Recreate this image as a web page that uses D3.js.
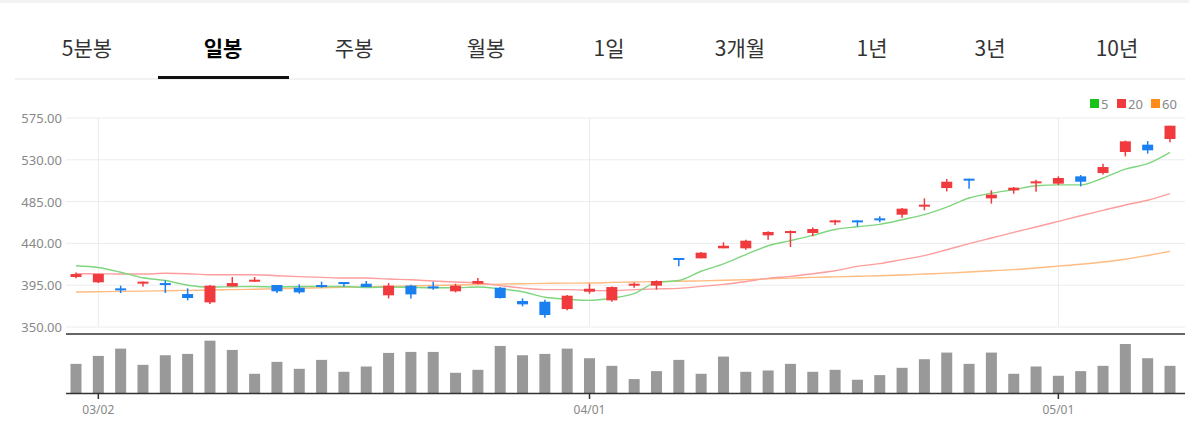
<!DOCTYPE html><html><head><meta charset="utf-8">
<script src="https://cdn.jsdelivr.net/npm/d3@7"></script>
<style>body{margin:0;background:#fff;font-family:"Noto Sans CJK KR","Noto Sans",sans-serif}</style></head><body>
<svg id="c" width="1189" height="424"></svg>
<script>
const tabs=["5분봉","일봉","주봉","월봉","1일","3개월","1년","3년","10년"];
const tabX=[87,223,354,486,609,740,872,990,1117];
const open=[403.8,398.1,391.6,397.3,397.3,385.5,376.5,393.7,399,395.2,392.3,395.2,398.4,396.6,384.1,394.5,393.7,388.4,396.6,392.3,378,377.2,369.3,388,
378.7,394.5,394.5,424.3,423.9,434.7,434.7,448.7,451.2,451.2,463.4,464.8,467,470.9,480.6,499.6,509.7,488.5,497.1,505,504.3,512.2,515.8,538.4,546.3,552.4];
const close=[407,407,391,398.8,395.5,381.2,394.5,397.3,400.9,388.4,387.3,393.7,397.3,393,394.5,385.1,391.6,394.5,399.5,381.2,374.4,362.9,383.7,391.2,
393,396.6,399.5,423.2,430,437.5,442.9,452.3,453.3,455.5,464.8,463.7,464.8,477.4,481.7,506.4,508.6,492.5,500,506.8,510.4,506.4,522.2,549.9,540.2,566.7];
const high=[408.8,407,394.5,399,400.2,391.6,395.2,403.8,403.8,395.2,395.9,398.8,398.4,399.5,397.3,395.5,398.8,396.6,402.7,393,380.8,379.4,384.4,396.6,
393.7,398,400.2,424.3,430.8,441.1,444,453,454,457,465.5,464.8,469.1,478.1,488.5,509.3,509.7,497.1,500.7,508.6,512.2,513.6,525.8,550.6,550.2,566.7];
const low=[402.4,397.4,386.6,393.7,386.6,378.7,374.7,393.7,398.4,386.6,385.9,392.3,393.7,393,380.8,380.8,390.2,387.3,396,380.8,372.2,360,367.9,385.9,
377.2,392.3,390.2,415.3,423.9,434.7,433.2,444,436.1,447.6,459.8,458.3,462.7,467.7,475.6,496,498.9,482.8,493.5,495.7,502.9,501.4,514.3,533.7,536.6,548.8];
const ma5=[416,414,409,403,400,395,393,393.3,393.6,393,393.6,393.6,393.6,392.6,393,392.6,392.3,392.3,393,391,388,382,380,378.7,
381.2,386,398,400,410,418,428,437.5,443,448.7,455,458,460.5,465.5,471,479,488.9,494,497.8,502,503,503,510.4,520,525.8,538];
const ma20=[407.4,407.4,407,407,407.8,407.4,406.3,406.3,406.3,405.2,404.2,403.4,402.7,402.7,401.6,400.9,399.5,398.4,397.3,394.5,391.9,390.2,390.2,389.4,
389,390.2,391,391.6,393.7,395.9,399,402.4,404.5,407.4,410.6,415.3,418.2,422.5,426.8,433.2,439.7,445.8,451.9,457.6,463.7,469.8,475.6,481.4,486.4,493.5];
const ma60=[387.7,388,388.3,388.6,389,389.4,389.8,390.2,390.7,391.2,391.7,392.2,392.7,393.2,393.7,394.2,394.7,395.2,395.7,396.2,396.6,397,397.2,397.3,
398,398.5,398.8,399.2,399.7,400.3,401,401.8,402.6,403.4,404,404.6,405.2,406,407,408,409.2,410.5,411.8,413.5,415.5,417.5,420,423,427,431.4];
const vol=[88,112,134,85,114,118,158,130,58,94,73,100,64,80,121,124,124,61,70,142,114,118,134,105,
82,42,66,100,58,110,64,68,88,64,70,40,54,76,102,122,88,122,58,80,52,66,82,148,105,82];
const priceTicks=[350,395,440,485,530,575];
const dateTickIdx=[1,23,44];
const dateTickLabels=["03/02","04/01","05/01"];
const maNames=["5","20","60"];

const svg=d3.select("#c");
svg.append("rect").attr("x",0).attr("y",0).attr("width",1189).attr("height",3).attr("fill","#f2f2f2");
svg.selectAll(".tab").data(tabs).join("text").attr("x",(d,i)=>tabX[i]).attr("y",56).attr("text-anchor","middle")
 .attr("font-size",21).attr("font-weight",(d,i)=>i==1?700:400).attr("fill",(d,i)=>i==1?"#000":"#333").text(d=>d);
svg.append("line").attr("x1",15).attr("x2",1185).attr("y1",79).attr("y2",79).attr("stroke","#e5e5e5");
svg.append("rect").attr("x",158).attr("y",76).attr("width",131).attr("height",3).attr("fill","#111");

const idx=d3.range(open.length);
const x=d3.scaleLinear().domain([0,49]).range([76,1170]);
const y=d3.scaleLinear().domain([350,575]).range([327,118]);
const yv=d3.scaleLinear().domain([0,160]).range([393,340]);
const L=66,R=1185;
svg.selectAll(".hg").data(priceTicks).join("line").attr("x1",L).attr("x2",R).attr("y1",d=>y(d)).attr("y2",d=>y(d)).attr("stroke","#ececec");
svg.selectAll(".vg").data(dateTickIdx).join("line").attr("x1",d=>x(d)).attr("x2",d=>x(d)).attr("y1",118).attr("y2",327).attr("stroke","#ececec");
svg.selectAll(".yl").data(priceTicks).join("text").attr("x",62).attr("y",d=>y(d)+5).attr("text-anchor","end").attr("font-size",13)
 .attr("fill","#888").attr("font-family","Noto Sans").text(d=>d.toFixed(2));
svg.append("line").attr("x1",L).attr("x2",R).attr("y1",334).attr("y2",334).attr("stroke","#333").attr("stroke-width",1.5);

const maC=["#7fd67f","#ff9d9d","#ffbb80"];
[ma60,ma20,ma5].forEach((m,k)=>{
 svg.append("path").datum(m).attr("fill","none").attr("stroke",maC[2-k]).attr("stroke-width",1.4)
 .attr("d",d3.line().x((d,i)=>x(i)).y(d=>y(d)).curve(d3.curveMonotoneX));
});
const red="#f03a3e",blue="#1a80f0";
const g=svg.append("g");
idx.forEach(i=>{
 const up=close[i]>=open[i],c=up?red:blue;
 g.append("line").attr("x1",x(i)).attr("x2",x(i)).attr("y1",y(high[i])).attr("y2",y(low[i])).attr("stroke",c).attr("stroke-width",1.5);
 const t=y(Math.max(open[i],close[i])),b=y(Math.min(open[i],close[i]));
 g.append("rect").attr("x",x(i)-5.5).attr("width",11).attr("y",t).attr("height",Math.max(2,b-t)).attr("fill",c);
});
svg.selectAll(".vb").data(vol).join("rect").attr("x",(d,i)=>x(i)-5.5).attr("width",11).attr("y",d=>yv(d)).attr("height",d=>yv(0)-yv(d)).attr("fill","#999");
svg.append("line").attr("x1",L).attr("x2",R).attr("y1",393.5).attr("y2",393.5).attr("stroke","#333").attr("stroke-width",1.5);
svg.selectAll(".dt").data(dateTickIdx).join("line").attr("x1",d=>x(d)).attr("x2",d=>x(d)).attr("y1",393).attr("y2",399).attr("stroke","#333").attr("stroke-width",1.5);
svg.selectAll(".dl").data(dateTickIdx).join("text").attr("x",d=>x(d)).attr("y",414).attr("text-anchor","middle").attr("font-size",12)
 .attr("fill","#888").attr("font-family","Noto Sans").text((d,i)=>dateTickLabels[i]);
const lx=[1090,1117,1151],lc=["#19c419","#f03a3e","#ff8c1a"];
maNames.forEach((n,i)=>{
 svg.append("rect").attr("x",lx[i]).attr("y",99).attr("width",9).attr("height",9).attr("fill",lc[i]);
 svg.append("text").attr("x",lx[i]+11).attr("y",109).attr("font-size",13).attr("fill","#888").attr("font-family","Noto Sans").text(n);
});
</script></body></html>
